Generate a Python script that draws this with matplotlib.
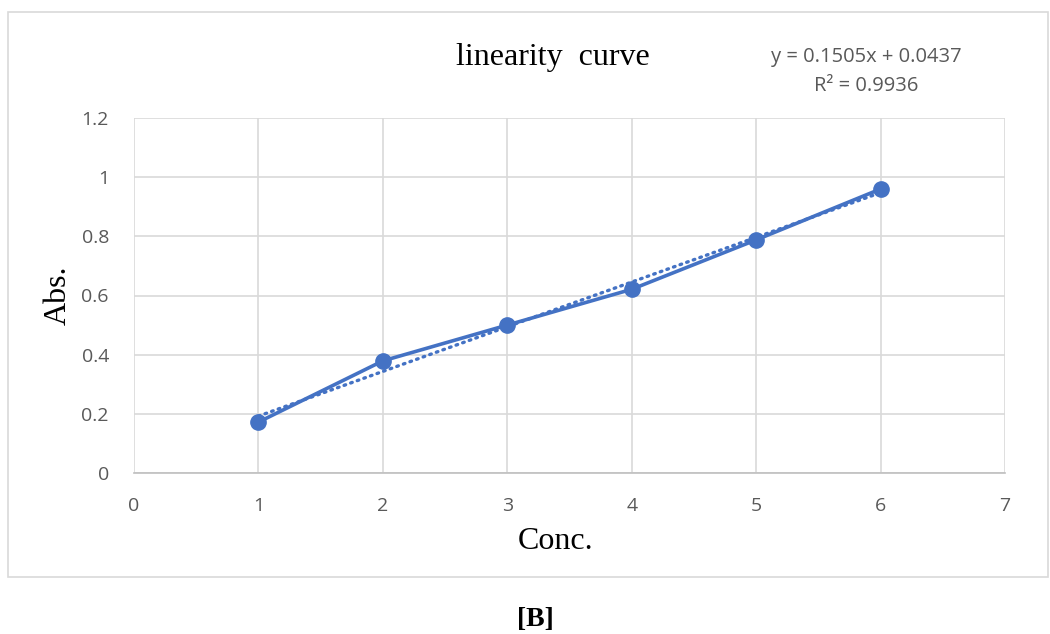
import numpy as np
import matplotlib.pyplot as plt
from matplotlib.patches import Rectangle

conc = [1, 2, 3, 4, 5, 6]
absorb = [0.172, 0.379, 0.500, 0.621, 0.788, 0.960]
eq_text = "y = 0.1505x + 0.0437"
r2_text = "R² = 0.9936"

blue = "#4472C4"
grey_txt = "#595959"
grid_c = "#d9d9d9"

fig = plt.figure(figsize=(10.5, 6.34), dpi=100)
fig.patches.append(Rectangle((8 / 1050, 1 - 577 / 634), 1040 / 1050, 565 / 634,
                             transform=fig.transFigure, fill=False,
                             edgecolor=grid_c, lw=1.2))

ax = fig.add_axes([134 / 1050, 1 - 473 / 634, 871 / 1050, 355 / 634])

ax.plot(conc, absorb, color=blue, lw=2.6, marker='o', markersize=11, zorder=3)

# linear trendline
m, b = np.polyfit(conc, absorb, 1)
xs = np.array([conc[0], conc[-1]])
ax.plot(xs, m * xs + b, color=blue, lw=2.4, ls=(0, (0.5, 1.6)),
        dash_capstyle='round', zorder=2)

ax.set_xlim(0, 7)
ax.set_ylim(0, 1.2)
ax.set_xticks(range(0, 8))
ax.set_yticks(np.arange(0, 1.21, 0.2))
ax.set_yticklabels(["0", "0.2", "0.4", "0.6", "0.8", "1", "1.2"])
ax.grid(True, color=grid_c, lw=1.2)
ax.set_axisbelow(True)
for s in ["top", "right", "left"]:
    ax.spines[s].set_visible(False)
ax.spines["bottom"].set_color("#bfbfbf")
ax.spines["bottom"].set_linewidth(1.2)
ax.tick_params(axis="x", pad=17)
ax.tick_params(axis="y", pad=18)
ax.tick_params(length=0, labelsize=14, labelcolor=grey_txt)
for lab in ax.get_xticklabels() + ax.get_yticklabels():
    lab.set_family("Open Sans")

ax.set_xlabel("Conc.", family="Liberation Serif", fontsize=23, labelpad=9)
ax.xaxis.label.set_x((556 - 134) / 871)
ax.set_ylabel("Abs.", family="Liberation Serif", fontsize=23, labelpad=6)

fig.text(553 / 1050, 1 - 57 / 634, "linearity  curve", family="Liberation Serif",
         fontsize=23, ha="center", va="center")
fig.text(866 / 1050, 1 - 57 / 634, eq_text, family="Open Sans", fontsize=14.5,
         color=grey_txt, ha="center", va="center")
fig.text(866 / 1050, 1 - 86 / 634, r2_text, family="Open Sans", fontsize=14.5,
         color=grey_txt, ha="center", va="center")
fig.text(535 / 1050, 1 - 619 / 634, "[B]", family="Liberation Serif", fontsize=20,
         weight="bold", ha="center", va="center")

fig.savefig("out.png", dpi=100)
